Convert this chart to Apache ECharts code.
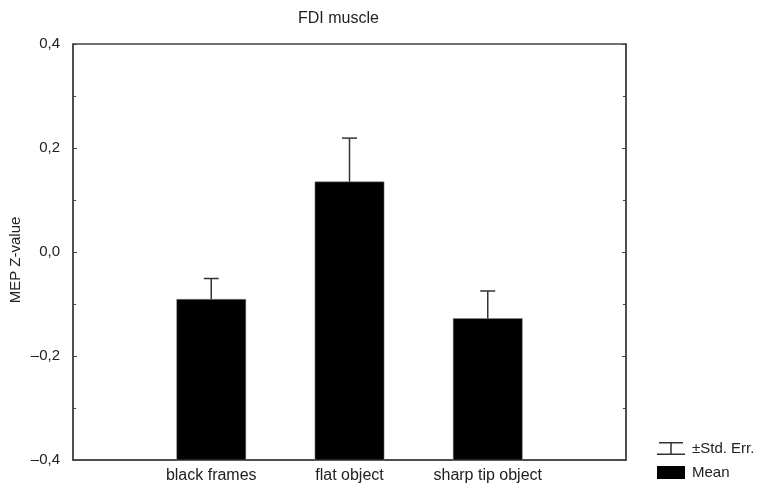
<!DOCTYPE html>
<html>
<head>
<meta charset="utf-8">
<script src="https://cdn.jsdelivr.net/npm/echarts@6/dist/echarts.min.js"></script>
<style>
  html, body { margin: 0; padding: 0; background: #fff; }
  #container { width: 760px; height: 488px; }
</style>
</head>
<body>
<div id="container"></div>
<script>
// categories, with empty slots at the ends so bars sit at 1/4, 2/4, 3/4 of the width
const categories = ['', 'black frames', 'flat object', 'sharp tip object', ''];
const means = [null, -0.091, 0.135, -0.128, null];
const stdErr = [null, 0.040, 0.084, 0.053, null];
const yTicks = [-0.4, -0.2, 0.0, 0.2, 0.4];

const FONT = 'Liberation Sans, Arial, sans-serif';
const AXIS_COLOR = '#444';
const TEXT_COLOR = '#222';

function fmt(v) {
  let s = Math.abs(v).toFixed(1).replace('.', ',');
  return v < -1e-9 ? '\u2013' + s : s;
}

const yMin = yTicks[0];
const yMax = yTicks[yTicks.length - 1];

const chart = echarts.init(document.getElementById('container'));

const yAxisBase = {
  type: 'value',
  min: yMin,
  max: yMax,
  interval: 0.2,
  axisLine: { show: true, onZero: false, lineStyle: { color: AXIS_COLOR, width: 1.5 } },
  axisTick: { show: true, inside: true, length: 4, lineStyle: { color: AXIS_COLOR } },
  minorTick: { show: true, splitNumber: 2, length: 3, lineStyle: { color: AXIS_COLOR } },
  splitLine: { show: false },
  minorSplitLine: { show: false }
};

chart.setOption({
  animation: false,
  backgroundColor: '#fff',
  title: {
    text: 'FDI muscle',
    left: 293,
    top: 6,
    textStyle: { fontFamily: FONT, fontSize: 16, fontWeight: 'normal', color: TEXT_COLOR }
  },
  graphic: [{
    type: 'text',
    x: 16,
    y: 260,
    rotation: Math.PI / 2,
    style: {
      text: 'MEP Z-value',
      fontFamily: FONT,
      fontSize: 15,
      fill: TEXT_COLOR,
      align: 'center',
      verticalAlign: 'middle'
    }
  }],
  legend: {
    orient: 'vertical',
    left: 652,
    top: 436,
    itemGap: 9,
    itemWidth: 28,
    itemHeight: 13,
    textStyle: { fontFamily: FONT, fontSize: 15, color: TEXT_COLOR, padding: [0, 0, 0, 2] },
    data: [
      { name: '\u00b1Std. Err.', icon: 'path://M2,0h24v1.5h-24z M13.25,0h1.5v13h-1.5z M0,11.5h28v1.5h-28z' },
      { name: 'Mean', icon: 'rect' }
    ]
  },
  grid: {
    left: 73, right: 134, top: 44, bottom: 28,
    show: true, borderColor: AXIS_COLOR, borderWidth: 1.5
  },
  xAxis: {
    type: 'category',
    data: categories,
    boundaryGap: false,
    axisLine: { show: true, onZero: false, lineStyle: { color: AXIS_COLOR, width: 1.5 } },
    axisTick: { show: false },
    axisLabel: { fontFamily: FONT, fontSize: 16, color: TEXT_COLOR, margin: 8, interval: 0 },
    splitLine: { show: false }
  },
  yAxis: [
    Object.assign({}, yAxisBase, {
      position: 'left',
      axisLabel: { fontFamily: FONT, fontSize: 15, color: TEXT_COLOR, margin: 13, formatter: fmt }
    }),
    Object.assign({}, yAxisBase, {
      position: 'right',
      axisLabel: { show: false }
    })
  ],
  series: [
    {
      name: '\u00b1Std. Err.',
      type: 'custom',
      z: 1,
      itemStyle: { color: '#333' },
      data: means.map((m, i) => [i, m, stdErr[i]]),
      renderItem: function (params, api) {
        const x = api.value(0);
        const m = api.value(1);
        const e = api.value(2);
        if (m == null || isNaN(m)) return;
        const top = api.coord([x, m + e]);
        const base = api.coord([x, m]);
        const half = 7.5;
        const style = { stroke: '#333', lineWidth: 1.5, fill: null };
        return {
          type: 'group',
          children: [
            { type: 'line', shape: { x1: base[0], y1: base[1], x2: top[0], y2: top[1] }, style: style },
            { type: 'line', shape: { x1: top[0] - half, y1: top[1], x2: top[0] + half, y2: top[1] }, style: style }
          ]
        };
      }
    },
    {
      name: 'Mean',
      type: 'custom',
      z: 2,
      itemStyle: { color: '#000' },
      data: means.map((m, i) => [i, m]),
      renderItem: function (params, api) {
        const x = api.value(0);
        const m = api.value(1);
        if (m == null || isNaN(m)) return;
        const p1 = api.coord([x, m]);
        const p0 = api.coord([x, yMin]);
        const w = api.size([1, 0])[0] * 0.5;
        return {
          type: 'rect',
          shape: { x: p1[0] - w / 2, y: p1[1], width: w, height: p0[1] - p1[1] },
          style: { fill: '#000', stroke: '#888', lineWidth: 0.5 }
        };
      }
    }
  ]
});
</script>
</body>
</html>
